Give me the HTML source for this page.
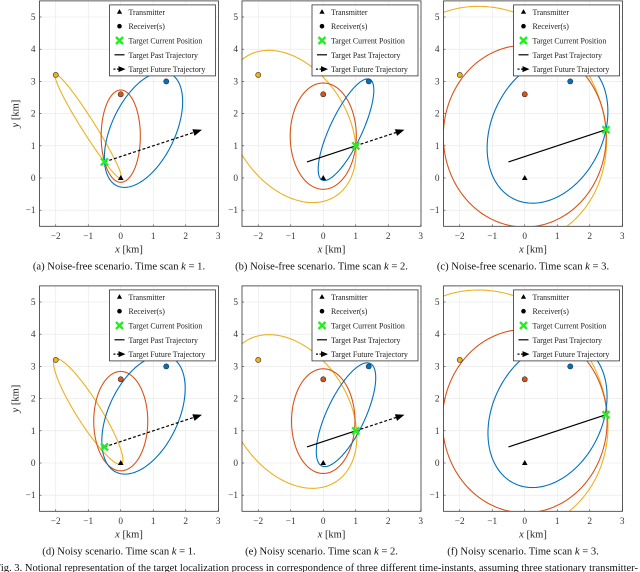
<!DOCTYPE html>
<html><head><meta charset="utf-8"><style>
body{margin:0;background:#fff;}
svg{display:block;font-family:"Liberation Serif",serif;}
</style></head><body>
<svg id="fig" width="640" height="572" viewBox="0 0 640 572"></svg>
<script>
// ---- data ----
const transmitter = [0, 0];
const receiverX = [-2, 0, 1.4];
const receiverY = [3.2, 2.6, 3.0];
const receiverColors = ['#EDB120', '#D95319', '#0072BD'];
const targetX = [-0.5, 1, 2.5];
const targetY = [0.5, 1, 1.5];
const trajStart = [-0.5, 0.5];
const trajEnd = [2.5, 1.5];
// range noise (km) per panel per receiver; noise-free panels zero
const rangeNoise = [[0,0,0],[0,0,0],[0,0,0],[0.05,0.22,0.1],[0.04,-0.05,0.06],[0.08,0.05,-0.04]];
const xTicks = [-2,-1,0,1,2,3];
const yTicks = [-1,0,1,2,3,4,5];
const captions = ['(a) Noise-free scenario. Time scan','(b) Noise-free scenario. Time scan','(c) Noise-free scenario. Time scan','(d) Noisy scenario. Time scan','(e) Noisy scenario. Time scan','(f) Noisy scenario. Time scan'];
const scanK = [1,2,3,1,2,3];
const legendLabels = ['Transmitter','Receiver(s)','Target Current Position','Target Past Trajectory','Target Future Trajectory'];

const NS='http://www.w3.org/2000/svg';
const svg=document.getElementById('fig');
function mk(tag,attrs,parent){const e=document.createElementNS(NS,tag);for(const k in attrs)e.setAttribute(k,attrs[k]);(parent||svg).appendChild(e);return e;}
const panelLeft=[39.5,242,443.5];
const PW=179, SX=32.5, SY=32.2;

const defs=mk('defs',{});
for(let p=0;p<6;p++){
  const col=p%3,row=Math.floor(p/3);
  const L=panelLeft[col], y0=row===0?178:463;
  const X=v=>L+(v+2.5)*SX, Y=v=>y0-v*SY;
  const top=Y(5.5), bot=Y(-1.5);
  const g=mk('g',{});
  
  
  const cp=mk('clipPath',{id:'c'+p},defs);mk('rect',{x:L,y:top,width:PW,height:bot-top},cp);
  xTicks.forEach(t=>{if(t<3){const l=mk('line',{x1:X(t),x2:X(t),y1:top,y2:bot,stroke:'#e6e6e6','stroke-width':0.6},g);}
    const tx=mk('text',{x:X(t),y:bot+12.5,'font-size':9.3,'text-anchor':'middle',fill:'#333'},g);tx.textContent=(t<0?'\u2212':'')+Math.abs(t);
    
    mk('line',{x1:X(t),x2:X(t),y1:bot,y2:bot-2,stroke:'#333','stroke-width':0.6},g);});
  yTicks.forEach(t=>{const l=mk('line',{x1:L,x2:L+PW,y1:Y(t),y2:Y(t),stroke:'#e6e6e6','stroke-width':0.6},g);
    const tx=mk('text',{x:L-4,y:Y(t)+3,'font-size':9.3,'text-anchor':'end',fill:'#333'},g);tx.textContent=(t<0?'\u2212':'')+Math.abs(t);
    
    mk('line',{x1:L,x2:L+2,y1:Y(t),y2:Y(t),stroke:'#333','stroke-width':0.6},g);});
  const plot=mk('g',{'clip-path':'url(#c'+p+')'},g);
  const k=scanK[p]-1, tx_=targetX[k], ty_=targetY[k];
  for(let r=0;r<3;r++){
    const rx=receiverX[r], ry=receiverY[r];
    const s=Math.hypot(tx_-transmitter[0],ty_-transmitter[1])+Math.hypot(tx_-rx,ty_-ry)+rangeNoise[p][r];
    const a=s/2, c=Math.hypot(rx-transmitter[0],ry-transmitter[1])/2, b=Math.sqrt(Math.max(a*a-c*c,0.0001));
    const cx=(rx+transmitter[0])/2, cy=(ry+transmitter[1])/2, th=Math.atan2(ry-transmitter[1],rx-transmitter[0]);
    let d='';
    for(let i=0;i<=180;i++){const u=i/180*2*Math.PI;const ex=cx+a*Math.cos(u)*Math.cos(th)-b*Math.sin(u)*Math.sin(th);const ey=cy+a*Math.cos(u)*Math.sin(th)+b*Math.sin(u)*Math.cos(th);d+=(i?'L':'M')+X(ex).toFixed(2)+' '+Y(ey).toFixed(2);}
    const e=mk('path',{d:d,fill:'none',stroke:receiverColors[r],'stroke-width':1.1},plot);
    
    
  }
  if(k>0){const l=mk('line',{x1:X(trajStart[0]),y1:Y(trajStart[1]),x2:X(tx_),y2:Y(ty_),stroke:'#000','stroke-width':1.2},plot);
    }
  if(k<2){const x1=X(tx_),y1=Y(ty_),x2=X(trajEnd[0]),y2=Y(trajEnd[1]);const ang=Math.atan2(y2-y1,x2-x1);
    const l=mk('line',{x1:x1,y1:y1,x2:x2-8*Math.cos(ang),y2:y2-8*Math.sin(ang),stroke:'#000','stroke-width':1.2,'stroke-dasharray':'3,2'},plot);
    
    const pts=[[x2,y2],[x2-9*Math.cos(ang)+3.5*Math.sin(ang),y2-9*Math.sin(ang)-3.5*Math.cos(ang)],[x2-9*Math.cos(ang)-3.5*Math.sin(ang),y2-9*Math.sin(ang)+3.5*Math.cos(ang)]];
    mk('polygon',{points:pts.map(q=>q.join(',')).join(' '),fill:'#000'},plot);}
  for(let r=0;r<3;r++){const m=mk('circle',{cx:X(receiverX[r]),cy:Y(receiverY[r]),r:2.6,fill:receiverColors[r],stroke:'#333','stroke-width':0.6},plot);
    }
  const tX=X(transmitter[0]),tY=Y(transmitter[1]);
  const tm=mk('polygon',{points:`${tX},${tY-3} ${tX-2.8},${tY+2} ${tX+2.8},${tY+2}`,fill:'#000'},plot);
  
  const gx=X(tx_),gy=Y(ty_);
  const tg=mk('path',{d:`M${gx-3.5} ${gy-3.5}L${gx+3.5} ${gy+3.5}M${gx-3.5} ${gy+3.5}L${gx+3.5} ${gy-3.5}`,stroke:'#22ee22','stroke-width':2.4},plot);
  
  mk('rect',{x:L,y:top,width:PW,height:bot-top,fill:'none',stroke:'#333','stroke-width':0.8},g);
  const lx=L+PW-109, ly=top+4;
  const lg=mk('g',{},g);
  mk('rect',{x:lx,y:ly,width:106,height:71,fill:'#fff',stroke:'#333','stroke-width':0.8},lg);
  legendLabels.forEach((lab,i)=>{const yy=ly+7+i*14.3;
    const t=mk('text',{x:lx+19,y:yy+3,'font-size':7.9,fill:'#222'},lg);t.textContent=lab;
    
    const sx=lx+10;
    if(i===0)mk('polygon',{points:`${sx},${yy-2.8} ${sx-2.6},${yy+1.8} ${sx+2.6},${yy+1.8}`,fill:'#000'},lg);
    if(i===1)mk('circle',{cx:sx,cy:yy,r:2.3,fill:'#000'},lg);
    if(i===2)mk('path',{d:`M${sx-3.5} ${yy-3.5}L${sx+3.5} ${yy+3.5}M${sx-3.5} ${yy+3.5}L${sx+3.5} ${yy-3.5}`,stroke:'#22ee22','stroke-width':2.4},lg);
    if(i===3)mk('line',{x1:sx-5,x2:sx+5,y1:yy,y2:yy,stroke:'#000','stroke-width':1.2},lg);
    if(i===4){mk('line',{x1:sx-6,x2:sx,y1:yy,y2:yy,stroke:'#000','stroke-width':1.2,'stroke-dasharray':'2,1.5'},lg);mk('polygon',{points:`${sx+6},${yy} ${sx-1},${yy-3} ${sx-1},${yy+3}`,fill:'#000'},lg);}
  });
  const xl=mk('text',{x:L+PW/2,y:bot+26,'font-size':10.5,'text-anchor':'middle',fill:'#222'},g);
  xl.innerHTML='<tspan font-style="italic">x</tspan> [km]';
  
  if(col===0){const yl=mk('text',{x:0,y:0,'font-size':10.5,'text-anchor':'middle',fill:'#222',transform:`translate(${L-21},${(top+bot)/2}) rotate(-90)`},g);
    yl.innerHTML='<tspan font-style="italic">y</tspan> [km]';
    }
  const cap=mk('text',{x:L+PW/2-10,y:bot+43,'font-size':10.6,'text-anchor':'middle',fill:'#111'},g);
  cap.innerHTML=captions[p]+' <tspan font-style="italic">k</tspan> = '+scanK[p]+'.';
  
}
const fc=mk('text',{x:-5,y:571,'font-size':10.2,fill:'#111','textLength':643,'lengthAdjust':'spacingAndGlyphs'});
fc.textContent='Fig. 3.  Notional representation of the target localization process in correspondence of three different time-instants, assuming three stationary transmitter-';


</script>
</body></html>
